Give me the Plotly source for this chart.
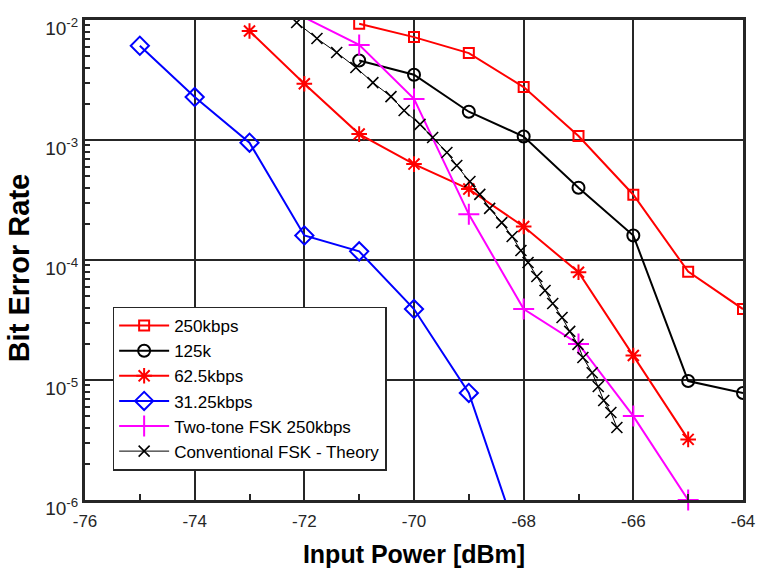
import plotly.graph_objects as go

# ---------------- data ----------------
x_250 = [-71, -70, -69, -68, -67, -66, -65, -64]
y_250 = [9.3e-3, 7.2e-3, 5.3e-3, 2.76e-3, 1.08e-3, 3.5e-4, 8.0e-5, 3.9e-5]

x_125 = [-71, -70, -69, -68, -67, -66, -65, -64]
y_125 = [4.6e-3, 3.5e-3, 1.72e-3, 1.07e-3, 4.0e-4, 1.6e-4, 9.8e-6, 7.8e-6]

x_625 = [-73, -72, -71, -70, -69, -68, -67, -66, -65]
y_625 = [8.1e-3, 2.94e-3, 1.12e-3, 6.3e-4, 3.9e-4, 1.9e-4, 7.9e-5, 1.6e-5, 3.2e-6]

x_3125 = [-75, -74, -73, -72, -71, -70, -69, -68]
y_3125 = [6.1e-3, 2.28e-3, 9.5e-4, 1.6e-4, 1.18e-4, 3.9e-5, 7.8e-6, 3.5e-7]

x_two = [-72, -71, -70, -69, -68, -67, -66, -65]
y_two = [1.05e-2, 6.2e-3, 2.2e-3, 2.4e-4, 3.9e-5, 2.0e-5, 5.0e-6, 1.0e-6]

x_th = [-72.14, -71.77, -71.41, -71.06, -70.75, -70.42, -70.18, -69.89, -69.66, -69.40,
        -69.22, -68.98, -68.80, -68.62, -68.40, -68.21, -68.05, -67.92, -67.76, -67.61,
        -67.47, -67.30, -67.16, -67.01, -66.92, -66.75, -66.64, -66.54, -66.41, -66.30]
y_th = [9.53e-3, 7.01e-3, 5.36e-3, 4.02e-3, 3.01e-3, 2.30e-3, 1.76e-3, 1.35e-3, 1.05e-3, 7.87e-4,
        6.13e-4, 4.51e-4, 3.52e-4, 2.69e-4, 2.05e-4, 1.57e-4, 1.20e-4, 9.53e-5, 7.29e-5, 5.57e-5,
        4.34e-5, 3.32e-5, 2.54e-5, 1.98e-5, 1.54e-5, 1.15e-5, 8.83e-6, 6.75e-6, 5.36e-6, 4.02e-6]

x_ticks = [-76, -74, -72, -70, -68, -66, -64]
x_minor = [-75, -73, -71, -69, -67, -65]
y_ticks = [1e-6, 1e-5, 1e-4, 1e-3, 1e-2]
y_ticktext = ["10<sup>-6</sup>", "10<sup>-5</sup>", "10<sup>-4</sup>", "10<sup>-3</sup>", "10<sup>-2</sup>"]
y_minor = [m * 10.0 ** e for e in range(-6, -2) for m in range(2, 10)]

AX = "#262626"
FONT = "Liberation Sans, Arial, sans-serif"

fig = go.Figure()

fig.add_trace(go.Scatter(x=x_250, y=y_250, name="250kbps", mode="lines+markers",
                         line=dict(color="#FF0000", width=2),
                         marker=dict(symbol="square-open", size=10, color="#FF0000",
                                     line=dict(width=2, color="#FF0000"))))
fig.add_trace(go.Scatter(x=x_125, y=y_125, name="125k", mode="lines+markers",
                         line=dict(color="#000000", width=2),
                         marker=dict(symbol="circle-open", size=12, color="#000000",
                                     line=dict(width=2, color="#000000"))))
fig.add_trace(go.Scatter(x=x_625, y=y_625, name="62.5kbps", mode="lines+markers",
                         line=dict(color="#FF0000", width=2),
                         marker=dict(symbol="asterisk-open", size=13, color="#FF0000",
                                     line=dict(width=2, color="#FF0000"))))
fig.add_trace(go.Scatter(x=x_3125, y=y_3125, name="31.25kbps", mode="lines+markers",
                         line=dict(color="#0000FF", width=2),
                         marker=dict(symbol="diamond-open", size=14, color="#0000FF",
                                     line=dict(width=2, color="#0000FF"))))
fig.add_trace(go.Scatter(x=x_two, y=y_two, name="Two-tone FSK 250kbps", mode="lines+markers",
                         line=dict(color="#FF00FF", width=2), cliponaxis=False,
                         marker=dict(symbol="cross-thin-open", size=15, color="#FF00FF",
                                     line=dict(width=2, color="#FF00FF"))))
fig.add_trace(go.Scatter(x=x_th, y=y_th, name="Conventional FSK - Theory", mode="lines+markers",
                         line=dict(color="#000000", width=1),
                         marker=dict(symbol="x-thin-open", size=11, color="#000000",
                                     line=dict(width=1.6, color="#000000"))))

fig.update_layout(
    width=760, height=571,
    margin=dict(l=85, r=17, t=20, b=71, autoexpand=False),
    paper_bgcolor="white", plot_bgcolor="white",
    font=dict(family=FONT, color=AX, size=17),
    showlegend=True,
    legend=dict(x=0.042, y=0.403, xanchor="left", yanchor="top",
                bgcolor="white", bordercolor=AX, borderwidth=1.5,
                font=dict(size=17, color="#000000", family=FONT),
                tracegroupgap=0, itemwidth=50),
)

fig.update_xaxes(
    range=[-76, -64], tickmode="array", tickvals=x_ticks,
    ticktext=[str(v) for v in x_ticks], automargin=False,
    tickfont=dict(size=17, color=AX, family=FONT), ticklabelstandoff=4,
    showgrid=True, gridcolor=AX, gridwidth=2,
    showline=True, linecolor=AX, linewidth=3, mirror=True,
    ticks="", zeroline=False,
    minor=dict(tickmode="array", tickvals=x_minor, ticks="inside", ticklen=6,
               tickwidth=2, tickcolor=AX, showgrid=False),
    title=dict(text="<b>Input Power [dBm]</b>", font=dict(size=25, color="#000000", family=FONT),
               standoff=16),
)
fig.update_yaxes(
    type="log", range=[-6, -2], tickmode="array", tickvals=y_ticks, ticktext=y_ticktext,
    automargin=False,
    tickfont=dict(size=19, color=AX, family=FONT), ticklabelshift=8,
    showgrid=True, gridcolor=AX, gridwidth=2,
    showline=True, linecolor=AX, linewidth=3, mirror=True,
    ticks="", zeroline=False,
    minor=dict(tickmode="array", tickvals=y_minor, ticks="inside", ticklen=5,
               tickwidth=2, tickcolor=AX, showgrid=False),
    title=dict(text="<b>Bit Error Rate&nbsp;&nbsp;</b>", font=dict(size=29, color="#000000", family=FONT),
               standoff=8),
)

fig.write_html("out.html", config={"displayModeBar": False},
               post_script="document.body.style.margin='0px';")
